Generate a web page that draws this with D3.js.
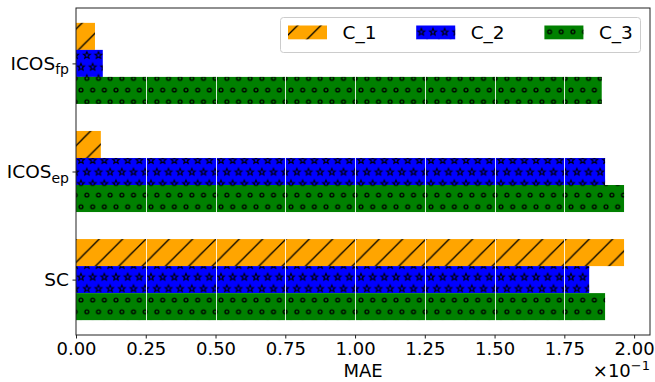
<!DOCTYPE html>
<html>
<head>
<meta charset="utf-8">
<script src="https://cdn.jsdelivr.net/npm/d3@7"></script>
<style>
  body { margin: 0; background: #fff; }
  text { font-family: "DejaVu Sans", sans-serif; fill: #000; }
</style>
</head>
<body>
<svg id="chart" width="655" height="382"></svg>
<script>
// categories from bottom to top (y = 0, 1, 2)
var catBase = ["SC", "ICOS", "ICOS"];
var catSub = ["", "ep", "fp"];

// MAE values, in units of 10^-1
var c1 = [1.964, 0.089, 0.068];
var c2 = [1.839, 1.896, 0.096];
var c3 = [1.896, 1.964, 1.884];

var seriesNames = ["C_1", "C_2", "C_3"];
var seriesColors = ["#ffa500", "#0000ff", "#008000"];
var seriesHatch = ["hatchSlash", "hatchStar", "hatchCircle"];
var xTicks = [0, 0.25, 0.5, 0.75, 1.0, 1.25, 1.5, 1.75, 2.0];

var svg = d3.select("#chart");
var padding = { t: 8, r: 5, b: 47, l: 76 };
var W = +svg.attr("width"), H = +svg.attr("height");

var xscale = d3.scaleLinear().domain([0, 2.057]).range([padding.l, W - padding.r]);
var yscale = d3.scaleLinear().domain([-0.5125, 2.5125]).range([H - padding.b, padding.t]);
var barH = 0.25;
var offsets = [0.25, 0, -0.25];

// hatch patterns
var defs = svg.append("defs");
var cell = 11.667;
var h2 = cell * 2;

var p1 = defs.append("pattern").attr("id", "hatchSlash")
  .attr("patternUnits", "userSpaceOnUse")
  .attr("width", h2).attr("height", h2)
  .attr("patternTransform", "translate(11.67,0)");
p1.append("path")
  .attr("d", "M-3,3L3,-3M0," + h2 + "L" + h2 + ",0M" + (h2 - 3) + "," + (h2 + 3) + "L" + (h2 + 3) + "," + (h2 - 3))
  .attr("stroke", "#000").attr("stroke-width", 1.3);

function starPath(cx, cy, ro, ri) {
  var pts = [];
  for (var i = 0; i < 10; i++) {
    var r = i % 2 === 0 ? ro : ri;
    var a = -Math.PI / 2 + i * Math.PI / 5;
    pts.push([cx + r * Math.cos(a), cy + r * Math.sin(a)]);
  }
  return "M" + pts.join("L") + "Z";
}

var p2 = defs.append("pattern").attr("id", "hatchStar")
  .attr("patternUnits", "userSpaceOnUse")
  .attr("width", cell).attr("height", h2)
  .attr("patternTransform", "translate(5.17,8.4)");
var p3 = defs.append("pattern").attr("id", "hatchCircle")
  .attr("patternUnits", "userSpaceOnUse")
  .attr("width", cell).attr("height", h2)
  .attr("patternTransform", "translate(5.17,8.4)");
var spots = [[0, 0], [cell, 0], [0, h2], [cell, h2], [cell / 2, cell]];
spots.forEach(function (s) {
  p2.append("path").attr("d", starPath(s[0], s[1] + 0.3, 3.6, 1.6))
    .attr("fill", "none").attr("stroke", "#000").attr("stroke-width", 1.1);
  p3.append("circle").attr("cx", s[0]).attr("cy", s[1]).attr("r", 1.9)
    .attr("fill", "none").attr("stroke", "#000").attr("stroke-width", 1.3);
});

// bars: colour fill, then hatch on top
var seriesData = [c1, c2, c3];
seriesData.forEach(function (vals, si) {
  var g = svg.append("g");
  var rows = vals.map(function (v, i) { return { v: v, y: i + offsets[si] }; });
  ["fill", "hatch"].forEach(function (layer) {
    g.selectAll("rect." + layer).data(rows).enter().append("rect")
      .attr("class", layer)
      .attr("x", xscale(0))
      .attr("y", function (d) { return yscale(d.y + barH / 2); })
      .attr("width", function (d) { return xscale(d.v) - xscale(0); })
      .attr("height", function (d) { return yscale(d.y - barH / 2) - yscale(d.y + barH / 2); })
      .attr("fill", layer === "fill" ? seriesColors[si] : "url(#" + seriesHatch[si] + ")");
  });
});

// white grid lines on top of bars
svg.append("g").selectAll("line").data(xTicks.slice(1)).enter().append("line")
  .attr("x1", function (d) { return Math.round(xscale(d)) + 0.5; })
  .attr("x2", function (d) { return Math.round(xscale(d)) + 0.5; })
  .attr("y1", padding.t).attr("y2", H - padding.b)
  .attr("stroke", "#fff").attr("stroke-width", 1).attr("stroke-opacity", 0.85);

// frame
svg.append("rect")
  .attr("x", padding.l).attr("y", padding.t)
  .attr("width", W - padding.r - padding.l).attr("height", H - padding.b - padding.t)
  .attr("fill", "none").attr("stroke", "#222").attr("stroke-width", 1);

// x axis
var xAxis = d3.axisBottom(xscale).tickValues(xTicks)
  .tickFormat(d3.format(".2f")).tickSize(3.5).tickPadding(3.5);
var gx = svg.append("g").attr("transform", "translate(0," + (H - padding.b) + ")").call(xAxis);
gx.select(".domain").remove();
gx.selectAll("line").attr("stroke", "#222");
gx.selectAll("text").attr("font-size", 18).attr("font-family", "DejaVu Sans").attr("fill", "#000");

// y axis
var yAxis = d3.axisLeft(yscale).tickValues([0, 1, 2]).tickSize(3.5).tickFormat("");
var gy = svg.append("g").attr("transform", "translate(" + padding.l + ",0)").call(yAxis);
gy.select(".domain").remove();
gy.selectAll("line").attr("stroke", "#222");

var ylab = svg.append("g").selectAll("text").data(catBase).enter().append("text")
  .attr("x", padding.l - 7)
  .attr("y", function (d, i) { return yscale(i) + 6.5; })
  .attr("text-anchor", "end")
  .attr("font-size", 18.5);
ylab.append("tspan").text(function (d) { return d; });
ylab.each(function (d, i) {
  if (catSub[i] !== "") {
    d3.select(this).append("tspan").attr("dy", 4.5).attr("font-size", 14).text(catSub[i]);
  }
});

// axis label and offset text
svg.append("text")
  .attr("x", (xscale.range()[0] + xscale.range()[1]) / 2)
  .attr("y", 377)
  .attr("text-anchor", "middle")
  .attr("font-size", 18)
  .text("MAE");

var off = svg.append("text")
  .attr("x", W - padding.r)
  .attr("y", 377)
  .attr("text-anchor", "end")
  .attr("font-size", 18);
off.append("tspan").text("\u00d710");
off.append("tspan").attr("dy", -7).attr("font-size", 13).text("\u22121");

// legend
var legend = svg.append("g");
legend.append("rect")
  .attr("x", 280.5).attr("y", 17.5).attr("width", 360).attr("height", 35)
  .attr("rx", 3).attr("fill", "#fff").attr("fill-opacity", 0.8)
  .attr("stroke", "#ccc").attr("stroke-width", 1);
var items = legend.selectAll("g.item").data(seriesNames).enter().append("g")
  .attr("transform", function (d, i) { return "translate(" + (288 + i * 128.2) + ",0)"; });
items.append("rect").attr("x", 0).attr("y", 25.5).attr("width", 39).attr("height", 13.8)
  .attr("fill", function (d, i) { return seriesColors[i]; });
items.append("rect").attr("x", 0).attr("y", 25.5).attr("width", 39).attr("height", 13.8)
  .attr("fill", function (d, i) { return "url(#" + seriesHatch[i] + ")"; });
items.append("text").attr("x", 54.5).attr("y", 38.5).attr("font-size", 18.5)
  .text(function (d) { return d; });
</script>
</body>
</html>
